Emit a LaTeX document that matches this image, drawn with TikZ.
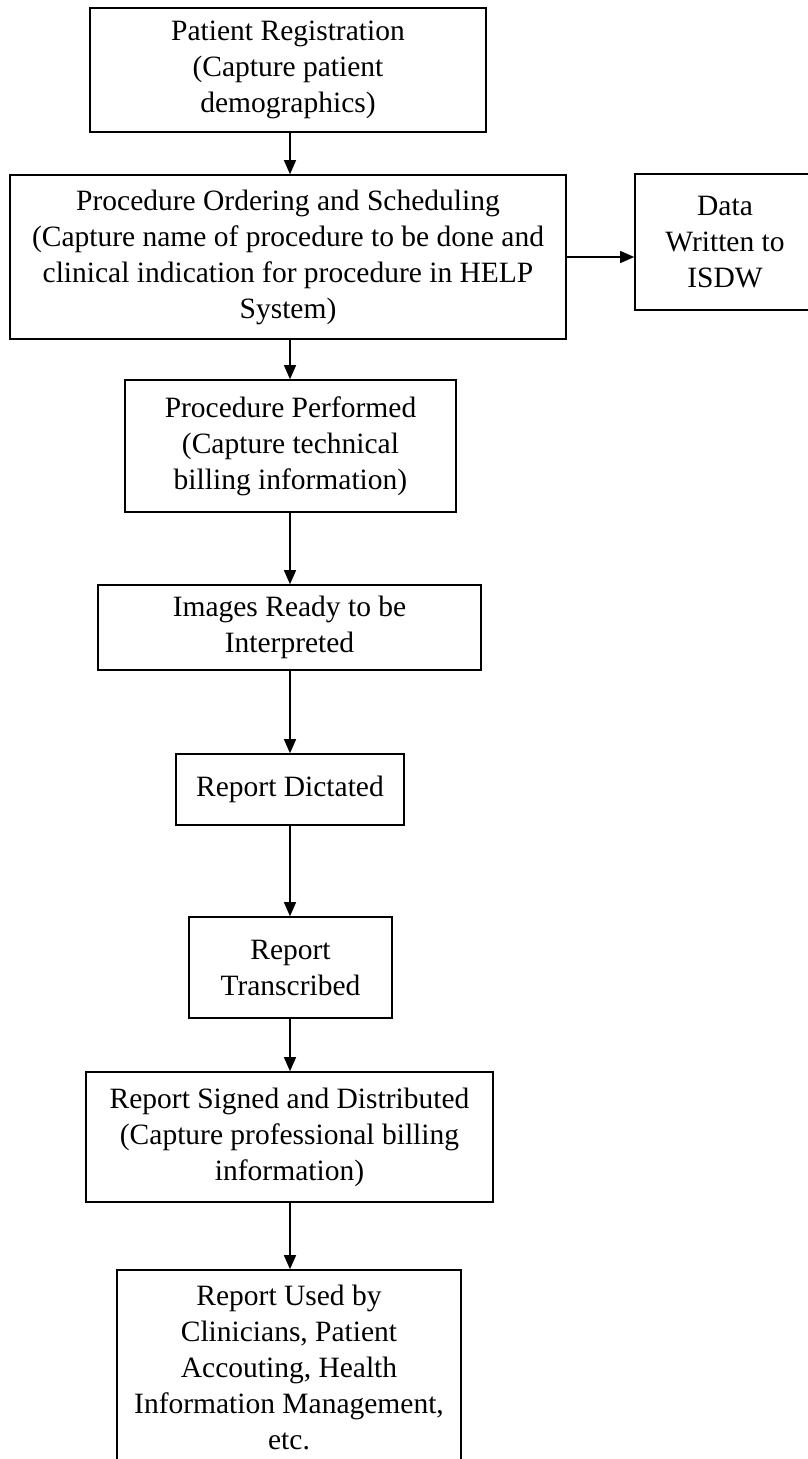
\documentclass[tikz,border=0pt]{standalone}
\usepackage{fontspec}
\setmainfont{Liberation Serif}
\usetikzlibrary{arrows.meta}
\begin{document}
\begin{tikzpicture}[x=1pt,y=-1pt,
  flowbox/.style={draw, line width=1.6pt, align=center,
    font=\fontsize{29.5}{36}\selectfont, inner sep=0pt},
  arr/.style={-{Triangle[length=14pt,width=12pt]}, line width=1.3pt}]
\useasboundingbox (0,0) rectangle (808,1459);
\clip (0,0) rectangle (808,1459);

% process steps, top to bottom
\node[flowbox, minimum width=396pt, minimum height=124pt] (reg) at (288,70)
  {Patient Registration\\(Capture patient\\demographics)};
\node[flowbox, minimum width=556pt, minimum height=164pt] (order) at (288,257)
  {Procedure Ordering and Scheduling\\(Capture name of procedure to be done and\\clinical indication for procedure in HELP\\System)};
\node[flowbox, minimum width=180pt, minimum height=136pt] (isdw) at (725,242)
  {Data\\Written to\\ISDW};
\node[flowbox, minimum width=331pt, minimum height=132pt] (perf) at (290.5,446)
  {Procedure Performed\\(Capture technical\\billing information)};
\node[flowbox, minimum width=383pt, minimum height=85pt] (ready) at (289.5,627.5)
  {Images Ready to be\\Interpreted};
\node[flowbox, minimum width=228pt, minimum height=71pt] (dict) at (290,789.5)
  {Report Dictated};
\node[flowbox, minimum width=203pt, minimum height=101pt] (trans) at (290.5,967.5)
  {Report\\Transcribed};
\node[flowbox, minimum width=407pt, minimum height=130pt] (sign) at (289.5,1137)
  {Report Signed and Distributed\\(Capture professional billing\\information)};
\node[flowbox, minimum width=344pt, minimum height=194pt] (used) at (289,1367)
  {Report Used by\\Clinicians, Patient\\Accouting, Health\\Information Management,\\etc.};

% connectors
\coordinate (axis) at (290,0);
\draw[arr] (reg.south -| axis) -- (order.north -| axis);
\draw[arr] (order.south -| axis) -- (perf.north -| axis);
\draw[arr] (perf.south -| axis) -- (ready.north -| axis);
\draw[arr] (ready.south -| axis) -- (dict.north -| axis);
\draw[arr] (dict.south -| axis) -- (trans.north -| axis);
\draw[arr] (trans.south -| axis) -- (sign.north -| axis);
\draw[arr] (sign.south -| axis) -- (used.north -| axis);
\draw[arr] (order.east) -- (order.east -| isdw.west);
\end{tikzpicture}
\end{document}
